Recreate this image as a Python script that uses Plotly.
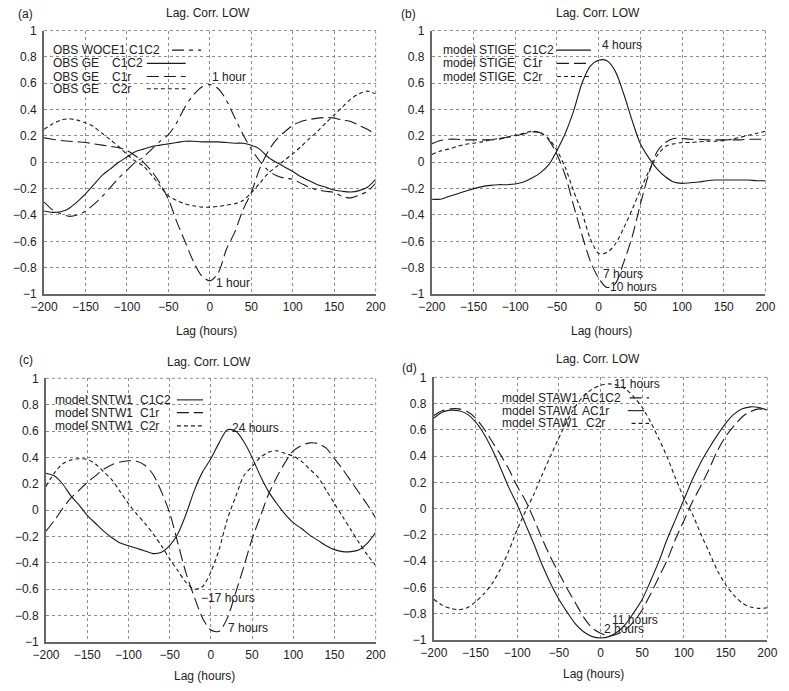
import plotly.graph_objects as go

W, H = 789, 691

# lag axis (hours)
LAGS = [-200, -190, -180, -170, -160, -150, -140, -130, -120, -110, -100,
        -90, -80, -70, -60, -50, -40, -30, -20, -10, 0,
        10, 20, 30, 40, 50, 60, 70, 80, 90, 100,
        110, 120, 130, 140, 150, 160, 170, 180, 190, 200]

# (a) observations
A_WOCE1_C1C2 = [-0.30, -0.36, -0.39, -0.41, -0.40, -0.37, -0.32, -0.26, -0.19, -0.12, -0.06,
                0.00, 0.04, 0.10, 0.16, 0.21, 0.30, 0.42, 0.51, 0.57, 0.59,
                0.56, 0.47, 0.34, 0.21, 0.10, 0.01, -0.06, -0.10, -0.12, -0.13,
                -0.16, -0.19, -0.21, -0.22, -0.23, -0.26, -0.27, -0.25, -0.22, -0.16]
A_GE_C1C2 = [-0.37, -0.38, -0.375, -0.35, -0.30, -0.24, -0.17, -0.10, -0.05, 0.00, 0.04,
             0.08, 0.10, 0.12, 0.13, 0.14, 0.15, 0.16, 0.16, 0.155, 0.155,
             0.155, 0.15, 0.145, 0.145, 0.13, 0.10, 0.04, 0.00, -0.035, -0.07,
             -0.11, -0.14, -0.17, -0.19, -0.21, -0.22, -0.225, -0.215, -0.19, -0.13]
A_GE_C1R = [0.185, 0.175, 0.165, 0.16, 0.155, 0.15, 0.14, 0.13, 0.12, 0.11, 0.09,
            0.05, 0.00, -0.07, -0.16, -0.28, -0.45, -0.60, -0.75, -0.86, -0.90,
            -0.84, -0.66, -0.53, -0.36, -0.23, -0.05, 0.08, 0.17, 0.23, 0.28,
            0.31, 0.325, 0.335, 0.34, 0.335, 0.32, 0.31, 0.28, 0.25, 0.21]
A_GE_C2R = [0.25, 0.29, 0.32, 0.33, 0.32, 0.30, 0.27, 0.22, 0.17, 0.12, 0.06,
            0.01, -0.03, -0.10, -0.18, -0.255, -0.29, -0.315, -0.33, -0.34, -0.34,
            -0.335, -0.325, -0.315, -0.29, -0.23, -0.16, -0.085, -0.035, 0.015, 0.065,
            0.12, 0.18, 0.235, 0.30, 0.36, 0.42, 0.48, 0.52, 0.54, 0.52]

# (b) model STIGE
B_C1C2 = [-0.28, -0.28, -0.26, -0.24, -0.22, -0.20, -0.185, -0.175, -0.17, -0.17, -0.165,
          -0.15, -0.12, -0.08, -0.02, 0.09, 0.22, 0.39, 0.60, 0.73, 0.775,
          0.77, 0.69, 0.52, 0.32, 0.14, 0.035, -0.05, -0.11, -0.15, -0.16,
          -0.155, -0.15, -0.14, -0.135, -0.135, -0.135, -0.135, -0.135, -0.14, -0.14]
B_C1R = [0.14, 0.165, 0.175, 0.175, 0.17, 0.17, 0.17, 0.17, 0.175, 0.19, 0.20,
         0.215, 0.23, 0.225, 0.17, 0.06, -0.10, -0.33, -0.55, -0.75, -0.88,
         -0.95, -0.92, -0.76, -0.57, -0.32, -0.09, 0.08, 0.15, 0.18, 0.18,
         0.175, 0.175, 0.17, 0.17, 0.17, 0.17, 0.17, 0.175, 0.175, 0.175]
B_C2R = [0.06, 0.085, 0.10, 0.12, 0.135, 0.145, 0.155, 0.17, 0.18, 0.19, 0.205,
         0.22, 0.235, 0.225, 0.18, 0.09, -0.04, -0.22, -0.38, -0.58, -0.69,
         -0.685, -0.62, -0.50, -0.36, -0.21, -0.07, 0.05, 0.12, 0.14, 0.15,
         0.15, 0.155, 0.16, 0.16, 0.165, 0.175, 0.19, 0.205, 0.22, 0.235]

# (c) model SNTW1
C_C1C2 = [0.28, 0.26, 0.20, 0.11, 0.04, -0.04, -0.10, -0.16, -0.21, -0.25, -0.27,
          -0.29, -0.31, -0.33, -0.32, -0.27, -0.18, -0.03, 0.15, 0.29, 0.39,
          0.51, 0.61, 0.60, 0.52, 0.40, 0.26, 0.14, 0.05, -0.03, -0.095,
          -0.14, -0.19, -0.23, -0.27, -0.30, -0.315, -0.315, -0.30, -0.25, -0.17]
C_C1R = [-0.16, -0.08, 0.01, 0.09, 0.15, 0.21, 0.26, 0.31, 0.345, 0.365, 0.375,
         0.37, 0.34, 0.27, 0.14, -0.02, -0.25, -0.48, -0.66, -0.82, -0.91,
         -0.92, -0.82, -0.63, -0.43, -0.22, -0.05, 0.12, 0.25, 0.36, 0.45,
         0.49, 0.51, 0.505, 0.47, 0.39, 0.31, 0.22, 0.13, 0.04, -0.06]
C_C2R = [0.18, 0.28, 0.35, 0.38, 0.39, 0.385, 0.35, 0.29, 0.23, 0.14, 0.05,
         -0.03, -0.10, -0.18, -0.27, -0.37, -0.46, -0.55, -0.60, -0.58, -0.47,
         -0.30, -0.07, 0.10, 0.26, 0.33, 0.40, 0.44, 0.45, 0.43, 0.41,
         0.37, 0.31, 0.25, 0.15, 0.05, -0.05, -0.15, -0.25, -0.34, -0.42]

# (d) model STAW1
D_AC1C2 = [0.71, 0.745, 0.76, 0.76, 0.74, 0.69, 0.61, 0.51, 0.41, 0.30, 0.17,
           0.06, -0.08, -0.23, -0.37, -0.49, -0.61, -0.72, -0.83, -0.91, -0.95,
           -0.97, -0.955, -0.92, -0.86, -0.77, -0.65, -0.52, -0.39, -0.23, -0.09,
           0.05, 0.17, 0.30, 0.44, 0.55, 0.63, 0.70, 0.74, 0.76, 0.75]
D_AC1R = [0.69, 0.735, 0.75, 0.745, 0.72, 0.66, 0.57, 0.45, 0.31, 0.16, 0.03,
          -0.12, -0.27, -0.43, -0.57, -0.69, -0.79, -0.88, -0.94, -0.975, -0.985,
          -0.975, -0.94, -0.88, -0.79, -0.69, -0.55, -0.40, -0.23, -0.08, 0.07,
          0.22, 0.35, 0.46, 0.56, 0.65, 0.72, 0.76, 0.775, 0.77, 0.75]
D_C2R = [-0.69, -0.735, -0.76, -0.77, -0.755, -0.71, -0.65, -0.57, -0.46, -0.32, -0.16,
         -0.02, 0.11, 0.26, 0.40, 0.54, 0.67, 0.78, 0.86, 0.91, 0.94,
         0.95, 0.94, 0.91, 0.85, 0.77, 0.66, 0.53, 0.39, 0.23, 0.08,
         -0.04, -0.19, -0.33, -0.47, -0.58, -0.66, -0.72, -0.75, -0.76, -0.755]

SOLID = "solid"
LONG = "12px,5px"
SHORT = "4px,3px"
DASHDOT = "12px,5px,4px,5px"
FONT = "Liberation Sans"
INK = "#1a1a1a"


def px(x):
    return x / W


def py(y):
    return 1 - y / H


# legend rows: (first text, second text or None, x1, x2, y, dash, sample x0, sample x1)
panels = [
    dict(box=(31, 373, 24, 293), tag="(a)", tagpos=(2, 7), title=(200, 6), xlab=(199, 331),
         series=[(A_WOCE1_C1C2, DASHDOT), (A_GE_C1C2, SOLID), (A_GE_C1R, LONG), (A_GE_C2R, SHORT)],
         legend=[("OBS WOCE1 C1C2", None, 38, 0, 44, DASHDOT, 163, 193),
                 ("OBS GE", "C1C2", 38, 98.5, 57.5, SOLID, 137, 177),
                 ("OBS GE", "C1r", 38, 98.5, 71, LONG, 137, 177),
                 ("OBS GE", "C2r", 38, 98.5, 83.5, SHORT, 137, 177)],
         notes=[("1 hour", 202.5, 71), ("1 hour", 206.5, 282)]),
    dict(box=(431, 775, 24, 293), tag="(b)", tagpos=(397, 7), title=(602, 6), xlab=(606, 331),
         series=[(B_C1C2, SOLID), (B_C1R, LONG), (B_C2R, SHORT)],
         legend=[("model STIGE", "C1C2", 440, 522.5, 44, SOLID, 560, 595),
                 ("model STIGE", "C1r", 440, 522.5, 57.5, LONG, 560, 595),
                 ("model STIGE", "C2r", 440, 522.5, 71, SHORT, 560, 595)],
         notes=[("4 hours", 604, 38.5), ("7 hours", 605, 273), ("10 hours", 613, 286)]),
    dict(box=(33, 373, 379, 648), tag="(c)", tagpos=(3, 360), title=(201, 362), xlab=(196, 683),
         series=[(C_C1C2, SOLID), (C_C1R, LONG), (C_C2R, SHORT)],
         legend=[("model SNTW1", "C1C2", 40.5, 128, 401, SOLID, 168, 195),
                 ("model SNTW1", "C1r", 40.5, 128, 414, LONG, 168, 195),
                 ("model SNTW1", "C2r", 40.5, 128, 427.5, SHORT, 168, 195)],
         notes=[("24 hours", 223, 430), ("\u221217 hours", 190.5, 603), ("7 hours", 218.5, 634)]),
    dict(box=(433, 777, 378, 646), tag="(d)", tagpos=(398, 368), title=(602, 359.5), xlab=(598, 681),
         series=[(D_AC1C2, LONG), (D_AC1R, SOLID), (D_C2R, SHORT)],
         legend=[("model STAW1", "AC1C2", 501, 583.5, 399, LONG, 635, 655),
                 ("model STAW1", "AC1r", 501, 583.5, 412, SOLID, 633, 650),
                 ("model STAW1", "C2r", 501, 588, 425, SHORT, 637, 655)],
         notes=[("11 hours", 616.5, 384.5), ("11 hours", 615, 626), ("2 hours", 606.5, 635)]),
]

fig = go.Figure()
annotations = []
shapes = []
layout_axes = {}


def text(t, x, y, anchor="left"):
    annotations.append(dict(text=t, x=px(x), y=py(y), xref="paper", yref="paper",
                            xanchor=anchor, yanchor="middle", showarrow=False,
                            font=dict(family=FONT, size=12, color="#222")))


for i, p in enumerate(panels, start=1):
    x0, x1, y0, y1 = p["box"]
    xa = "x" if i == 1 else "x%d" % i
    ya = "y" if i == 1 else "y%d" % i
    xkey = "xaxis" if i == 1 else "xaxis%d" % i
    ykey = "yaxis" if i == 1 else "yaxis%d" % i

    for vals, dash in p["series"]:
        fig.add_trace(go.Scatter(x=LAGS, y=vals, mode="lines", xaxis=xa, yaxis=ya,
                                 line=dict(color=INK, width=1.1, dash=dash, shape="spline", smoothing=0.8),
                                 showlegend=False, hoverinfo="skip"))

    common = dict(showgrid=True, gridcolor="#8c8c8c", gridwidth=1, griddash="3px,3px",
                  zeroline=False, showline=True, linecolor="#666", linewidth=2,
                  ticks="", tickfont=dict(family=FONT, size=12, color="#222"))
    layout_axes[xkey] = dict(common, domain=[px(x0), px(x1)], range=[-200, 200], dtick=50,
                             anchor=ya, ticklabelstandoff=1)
    layout_axes[ykey] = dict(common, domain=[py(y1), py(y0)], range=[-1, 1], dtick=0.2,
                             anchor=xa, ticklabelstandoff=3)

    # dashed top and right frame, like the grid
    shapes.append(dict(type="line", xref="paper", yref="paper", x0=px(x0), x1=px(x1),
                       y0=py(y0), y1=py(y0), line=dict(color="#8c8c8c", width=1, dash="3px,3px")))
    shapes.append(dict(type="line", xref="paper", yref="paper", x0=px(x1), x1=px(x1),
                       y0=py(y0), y1=py(y1), line=dict(color="#8c8c8c", width=1, dash="3px,3px")))

    text(p["tag"], p["tagpos"][0], p["tagpos"][1])
    text("Lag. Corr. LOW", p["title"][0], p["title"][1], "center")
    text("Lag (hours)", p["xlab"][0], p["xlab"][1], "center")
    for name, col, cx1, cx2, ry, dash, sx0, sx1 in p["legend"]:
        text(name, cx1, ry)
        if col:
            text(col, cx2, ry)
        shapes.append(dict(type="line", xref="paper", yref="paper", x0=px(sx0), x1=px(sx1),
                           y0=py(ry), y1=py(ry), line=dict(color=INK, width=1.1, dash=dash)))
    for t, nx, ny in p["notes"]:
        text(t, nx, ny)

fig.update_layout(width=W, height=H, margin=dict(l=0, r=0, t=0, b=0),
                  paper_bgcolor="white", plot_bgcolor="white",
                  annotations=annotations, shapes=shapes, showlegend=False,
                  **layout_axes)

fig.write_html("out.html", config={"displayModeBar": False},
               post_script="document.body.style.margin='0px';document.body.style.overflow='hidden';")
